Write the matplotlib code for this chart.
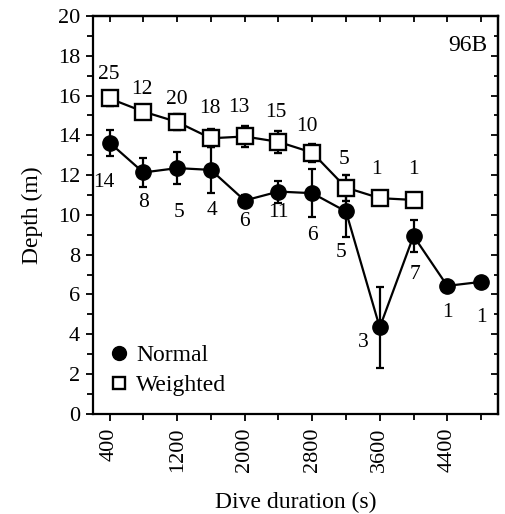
import matplotlib
matplotlib.use("Agg")
import matplotlib.pyplot as plt
from matplotlib.ticker import MultipleLocator
from matplotlib.lines import Line2D

plt.rcParams['font.family'] = ['Liberation Serif', 'DejaVu Serif']

normal_x = [400, 800, 1200, 1600, 2000, 2400, 2800, 3200, 3600, 4000, 4400, 4800]
normal_y = [13.63, 12.13, 12.35, 12.26, 10.72, 11.17, 11.09, 10.17, 4.34, 8.94, 6.43, 6.63]
normal_err = [0.65, 0.75, 0.8, 1.15, 0.3, 0.55, 1.2, 1.3, 2.05, 0.8, 0.0, 0.0]
normal_n = ["14", "8", "5", "4", "6", "11", "6", "5", "3", "7", "1", "1"]

weighted_x = [400, 800, 1200, 1600, 2000, 2400, 2800, 3200, 3600, 4000]
weighted_y = [15.85, 15.19, 14.67, 13.85, 13.94, 13.67, 13.13, 11.37, 10.84, 10.75]
weighted_err = [0.4, 0.2, 0.4, 0.45, 0.55, 0.55, 0.45, 0.65, 0.0, 0.0]
weighted_n = ["25", "12", "20", "18", "13", "15", "10", "5", "1", "1"]

# label offsets in pixels (dx, dy) -- positions only
normal_off = [(-6, -40), (0, -30), (2, -44), (1, -41), (0, -21), (0, -21),
              (0, -42), (-5, -41), (-16, -15), (1, -39), (0, -27), (0, -36)]
weighted_off = [(-1, 24), (-2, 22), (0, 22), (-1, 30), (-6, 29), (-3, 29),
                (-5, 26), (-2, 28), (-3, 29), (0, 30)]

FS_ANN = 15.5
FS_TICK = 16
FS_LAB = 17

fig = plt.figure(figsize=(5.05, 5.14), dpi=100)
ax = fig.add_axes([0.1836, 0.195, 0.8024, 0.774])

ax.errorbar(normal_x, normal_y, yerr=normal_err, fmt='-o', color='black',
            ms=11, lw=1.6, elinewidth=1.6, capsize=3, capthick=1.6,
            zorder=3)
ax.errorbar(weighted_x, weighted_y, yerr=weighted_err, fmt='-s', color='black',
            mfc='white', mec='black', mew=1.7, ms=11, lw=1.6, elinewidth=1.6,
            capsize=3, capthick=1.6, zorder=4)

for x, y, t, (dx, dy) in zip(normal_x, normal_y, normal_n, normal_off):
    ax.annotate(t, (x, y), xytext=(dx, dy), textcoords='offset pixels',
                ha='center', va='center', fontsize=FS_ANN)
for x, y, t, (dx, dy) in zip(weighted_x, weighted_y, weighted_n, weighted_off):
    ax.annotate(t, (x, y), xytext=(dx, dy), textcoords='offset pixels',
                ha='center', va='center', fontsize=FS_ANN)

ax.text(0.975, 0.925, '96B', transform=ax.transAxes, ha='right', va='center', fontsize=FS_LAB)

ax.set_xlim(200, 5000)
ax.set_ylim(0, 20)
ax.set_xticks([400, 1200, 2000, 2800, 3600, 4400])
ax.set_xticklabels(['400', '1200', '2000', '2800', '3600', '4400'], rotation=90)
ax.xaxis.set_minor_locator(MultipleLocator(400))
ax.yaxis.set_major_locator(MultipleLocator(2))
ax.yaxis.set_minor_locator(MultipleLocator(1))

ax.tick_params(axis='both', which='both', labelsize=FS_TICK, width=1.3)
ax.tick_params(axis='x', which='both', direction='out', bottom=True, top=False, pad=5)
ax.tick_params(axis='y', which='both', direction='out', left=True, right=False, pad=4)
ax.tick_params(which='major', length=5)
ax.tick_params(which='minor', length=4)
# inward ticks on top and right
ax2 = ax.secondary_xaxis('top')
ax2.set_xticks([400, 800, 1200, 1600, 2000, 2400, 2800, 3200, 3600, 4000, 4400, 4800])
ax2.tick_params(direction='in', length=4, width=1.3, labeltop=False)
ax3 = ax.secondary_yaxis('right')
ax3.yaxis.set_major_locator(MultipleLocator(2))
ax3.yaxis.set_minor_locator(MultipleLocator(1))
ax3.tick_params(which='major', direction='in', length=5, width=1.3, labelright=False)
ax3.tick_params(which='minor', direction='in', length=3, width=1.3)

for s in ax.spines.values():
    s.set_linewidth(1.6)
ax2.spines['top'].set_linewidth(1.6)
ax3.spines['right'].set_linewidth(1.6)

ax.set_xlabel('Dive duration (s)', fontsize=FS_LAB, labelpad=14)
ax.set_ylabel('Depth (m)', fontsize=FS_LAB, labelpad=11)

handles = [Line2D([], [], marker='o', ls='none', color='black', ms=10),
           Line2D([], [], marker='s', ls='none', mfc='white', mec='black', mew=1.7, ms=9)]
ax.legend(handles, ['Normal', 'Weighted'], loc='lower left', bbox_to_anchor=(0.0, 0.003),
          frameon=False, fontsize=FS_LAB, handlelength=0.8, handletextpad=0.35,
          labelspacing=0.35, borderaxespad=0.3)

fig.savefig('out.png', dpi=100)
